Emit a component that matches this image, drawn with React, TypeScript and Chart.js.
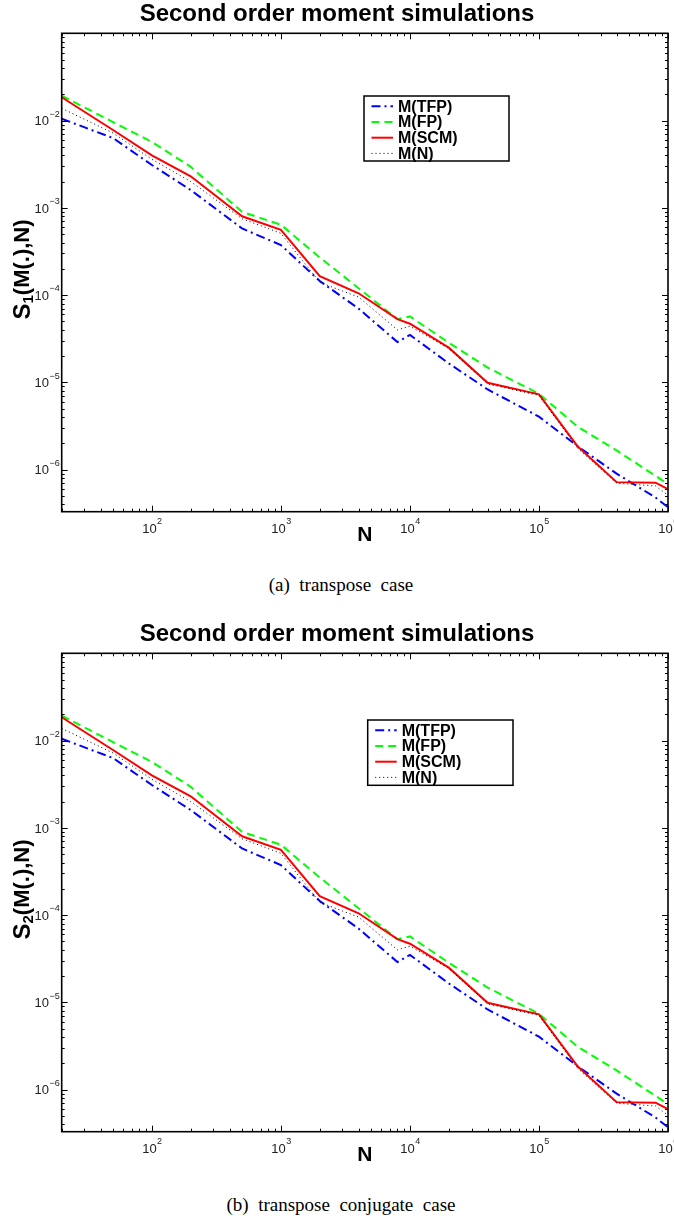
import React, { useEffect, useRef } from 'react';
import { Chart, registerables } from 'chart.js';

Chart.register(...registerables);
Chart.defaults.font.family = '"Liberation Sans", Arial, Helvetica, sans-serif';

// ---------- data ----------
const sampleSizes = [20, 50, 100, 200, 500, 1000, 2000, 4000, 8000, 10000, 20000, 40000, 100000, 200000, 400000, 800000, 1000000];
const momentTFP = [1.05e-2, 6.3e-3, 3.1e-3, 1.6e-3, 5.8e-4, 3.75e-4, 1.45e-4, 7.0e-5, 2.9e-5, 3.5e-5, 1.65e-5, 8.3e-6, 4.05e-6, 1.85e-6, 9.0e-7, 4.8e-7, 3.7e-7];
const momentFP = [1.93e-2, 9.6e-3, 5.7e-3, 2.95e-3, 9.0e-4, 6.4e-4, 2.7e-4, 1.2e-4, 5.3e-5, 5.7e-5, 2.85e-5, 1.48e-5, 7.4e-6, 3.1e-6, 1.66e-6, 8.5e-7, 6.8e-7];
const momentSCM = [1.85e-2, 7.8e-3, 4.0e-3, 2.3e-3, 8.0e-4, 5.6e-4, 1.65e-4, 1.05e-4, 5.3e-5, 4.7e-5, 2.5e-5, 9.9e-6, 7.3e-6, 1.84e-6, 7.2e-7, 7.1e-7, 6.0e-7];
const momentN = [1.38e-2, 7.2e-3, 3.6e-3, 2.0e-3, 7.5e-4, 5.1e-4, 1.4e-4, 9.5e-5, 4.0e-5, 4.4e-5, 2.45e-5, 9.6e-6, 7.1e-6, 1.75e-6, 7.0e-7, 6.5e-7, 5.1e-7];
const seriesLabels = ['M(TFP)', 'M(FP)', 'M(SCM)', 'M(N)'];

const xMin = 20;
const xMax = 1e6;
const yMin = 3.3e-7;
const yMax = 0.1;
const xTickValues = [1e2, 1e3, 1e4, 1e5, 1e6];
const xTickExponents = ['2', '3', '4', '5', '6'];
const yTickValues = [1e-6, 1e-5, 1e-4, 1e-3, 1e-2];
const yTickExponents = ['\u22126', '\u22125', '\u22124', '\u22123', '\u22122'];
const tickBase = '10';

const chartTitle = 'Second order moment simulations';
const xAxisTitle = 'N';
const yAxisBase = 'S';
const yAxisRest = '(M(.),N)';
const yAxisSubscripts = ['1', '2'];
const captions = ['(a)  transpose  case', '(b)  transpose  conjugate  case'];

// ---------- styling ----------
const SANS = '"Liberation Sans", Arial, Helvetica, sans-serif';
const W = 674;
const H = 560;

function logTicks(min: number, max: number) {
  const out: { v: number; major: boolean }[] = [];
  const e0 = Math.floor(Math.log10(min)) - 1;
  const e1 = Math.ceil(Math.log10(max)) + 1;
  for (let e = e0; e <= e1; e++) {
    for (let m = 1; m <= 9; m++) {
      const v = m * Math.pow(10, e);
      if (v >= min * (1 - 1e-9) && v <= max * (1 + 1e-9)) out.push({ v, major: m === 1 });
    }
  }
  return out;
}

const framePlugin = {
  id: 'matFrame',
  afterDatasetsDraw(chart: any) {
    const { ctx, chartArea: a, scales } = chart;
    const xs = scales.x;
    const ys = scales.y;
    ctx.save();
    ctx.strokeStyle = '#000';
    ctx.lineWidth = 1;
    ctx.beginPath();
    for (const t of logTicks(xs.min, xs.max)) {
      const px = Math.round(xs.getPixelForValue(t.v)) + 0.5;
      const len = t.major ? 6 : 3;
      ctx.moveTo(px, a.bottom);
      ctx.lineTo(px, a.bottom - len);
      ctx.moveTo(px, a.top);
      ctx.lineTo(px, a.top + len);
    }
    for (const t of logTicks(ys.min, ys.max)) {
      const py = Math.round(ys.getPixelForValue(t.v)) + 0.5;
      const len = t.major ? 6 : 3;
      ctx.moveTo(a.left, py);
      ctx.lineTo(a.left + len, py);
      ctx.moveTo(a.right, py);
      ctx.lineTo(a.right - len, py);
    }
    ctx.stroke();
    ctx.lineWidth = 1.6;
    ctx.strokeRect(a.left, a.top, a.right - a.left, a.bottom - a.top);
    ctx.restore();
  },
};

// power-of-ten tick labels, placed with the library's scales
const tickLabelPlugin = {
  id: 'powTicks',
  afterDraw(chart: any) {
    const { ctx, chartArea: a, scales } = chart;
    const baseFont = `13px ${SANS}`;
    const expFont = `9px ${SANS}`;
    ctx.save();
    ctx.fillStyle = '#222';
    ctx.textBaseline = 'alphabetic';
    ctx.textAlign = 'left';
    xTickValues.forEach((v, i) => {
      const px = scales.x.getPixelForValue(v);
      ctx.font = baseFont;
      const wb = ctx.measureText(tickBase).width;
      ctx.font = expFont;
      const we = ctx.measureText(xTickExponents[i]).width;
      const x0 = px - (wb + we) / 2;
      const by = a.bottom + 21.6;
      ctx.font = baseFont;
      ctx.fillText(tickBase, x0, by);
      ctx.font = expFont;
      ctx.fillText(xTickExponents[i], x0 + wb + 0.5, by - 9.5);
    });
    yTickValues.forEach((v, i) => {
      const py = scales.y.getPixelForValue(v);
      ctx.font = expFont;
      const we = ctx.measureText(yTickExponents[i]).width;
      ctx.font = baseFont;
      const wb = ctx.measureText(tickBase).width;
      const xr = a.left - 2;
      const by = py + 4.7;
      ctx.font = baseFont;
      ctx.fillText(tickBase, xr - we - wb - 0.5, by);
      ctx.font = expFont;
      ctx.fillText(yTickExponents[i], xr - we, by - 8.5);
    });
    ctx.restore();
  },
};

const yTitlePlugin = {
  id: 'yTitle',
  afterDraw(chart: any, _args: any, opts: any) {
    const { ctx, chartArea: a } = chart;
    const cy = (a.top + a.bottom) / 2 + (opts.dy || 0);
    ctx.save();
    ctx.translate(opts.x, cy);
    ctx.rotate(-Math.PI / 2);
    ctx.fillStyle = '#000';
    ctx.textAlign = 'left';
    ctx.textBaseline = 'alphabetic';
    const big = `bold 22px ${SANS}`;
    const sBig = `bold 24px ${SANS}`;
    const small = `bold 15px ${SANS}`;
    ctx.font = sBig;
    const wS = ctx.measureText(opts.base).width;
    ctx.font = big;
    const wR = ctx.measureText(opts.rest).width;
    ctx.font = small;
    const wSub = ctx.measureText(opts.sub).width;
    const x0 = -(wS + wSub + wR) / 2;
    ctx.font = sBig;
    ctx.fillText(opts.base, x0, 0.5);
    ctx.font = small;
    ctx.fillText(opts.sub, x0 + wS, 4);
    ctx.font = big;
    ctx.fillText(opts.rest, x0 + wS + wSub, 0);
    ctx.restore();
  },
};

const boxLegendPlugin = {
  id: 'boxLegend',
  afterDraw(chart: any, _args: any, opts: any) {
    const { ctx } = chart;
    const { left, top, width, height } = opts;
    ctx.save();
    ctx.fillStyle = '#fff';
    ctx.fillRect(left, top, width, height);
    ctx.lineWidth = 1.5;
    ctx.strokeStyle = '#000';
    ctx.strokeRect(left, top, width, height);
    chart.data.datasets.forEach((ds: any, i: number) => {
      const y = top + 10.3 + 15.7 * i;
      ctx.strokeStyle = ds.borderColor;
      ctx.lineWidth = ds.borderWidth;
      ctx.setLineDash(ds.borderDash || []);
      ctx.beginPath();
      ctx.moveTo(left + 7.5, y);
      ctx.lineTo(left + 29, y);
      ctx.stroke();
      ctx.setLineDash([]);
      ctx.fillStyle = '#000';
      ctx.font = `bold 16px ${SANS}`;
      ctx.textAlign = 'left';
      ctx.textBaseline = 'middle';
      ctx.fillText(ds.label, left + 34, y + 1);
    });
    ctx.restore();
  },
};

function toPoints(values: number[]) {
  return sampleSizes.map((n, i) => ({ x: n, y: values[i] }));
}

type PanelProps = { top: number; sub: string; legend: { left: number; top: number; width: number; height: number } };

function MomentPanel({ top, sub, legend }: PanelProps) {
  const ref = useRef<HTMLCanvasElement>(null);
  useEffect(() => {
    if (!ref.current) return;
    const chart = new Chart(ref.current, {
      type: 'line',
      data: {
        datasets: [
          { label: seriesLabels[0], data: toPoints(momentTFP), borderColor: '#0000ff', borderWidth: 2, borderDash: [9, 4, 2, 4], pointRadius: 0, order: 4 },
          { label: seriesLabels[1], data: toPoints(momentFP), borderColor: '#00ff00', borderWidth: 2, borderDash: [8, 5], pointRadius: 0, order: 3 },
          { label: seriesLabels[2], data: toPoints(momentSCM), borderColor: '#ff0000', borderWidth: 2, pointRadius: 0, order: 2 },
          { label: seriesLabels[3], data: toPoints(momentN), borderColor: '#000000', borderWidth: 1, borderDash: [1, 3], pointRadius: 0, order: 1 },
        ] as any,
      },
      options: {
        responsive: false,
        animation: false,
        devicePixelRatio: 1,
        events: [],
        layout: { padding: { left: 6, right: 6, top: 0, bottom: 0 } },
        plugins: {
          legend: { display: false },
          tooltip: { enabled: false },
          title: {
            display: true,
            text: chartTitle,
            color: '#000',
            font: { family: SANS, size: 24, weight: 'bold', lineHeight: 1.2 },
            padding: { top: 0, bottom: 4.5 },
          },
          yTitle: { x: 29, dy: -3, base: yAxisBase, sub, rest: yAxisRest },
          boxLegend: legend,
        } as any,
        scales: {
          x: {
            type: 'logarithmic',
            position: 'bottom',
            min: xMin,
            max: xMax,
            grid: { display: false, drawTicks: false },
            border: { display: false },
            afterBuildTicks: (s: any) => {
              s.ticks = xTickValues.map((v) => ({ value: v }));
            },
            afterFit: (s: any) => {
              s.height = 48.3;
              s.paddingLeft = 0;
              s.paddingRight = 0;
            },
            ticks: { display: false, autoSkip: false },
            title: {
              display: true,
              text: xAxisTitle,
              color: '#000',
              font: { family: SANS, size: 21, weight: 'bold', lineHeight: 1.2 },
              padding: { top: 0, bottom: 12.4 },
            },
          },
          y: {
            type: 'logarithmic',
            position: 'left',
            min: yMin,
            max: yMax,
            grid: { display: false, drawTicks: false },
            border: { display: false },
            afterBuildTicks: (s: any) => {
              s.ticks = yTickValues.map((v) => ({ value: v }));
            },
            afterFit: (s: any) => {
              s.width = 55.7;
              s.paddingTop = 0;
              s.paddingBottom = 0;
            },
            ticks: { display: false, autoSkip: false },
          },
        } as any,
      },
      plugins: [framePlugin, tickLabelPlugin, yTitlePlugin, boxLegendPlugin] as any,
    });
    return () => chart.destroy();
  }, [top, sub, legend]);
  return (
    <canvas
      ref={ref}
      width={W}
      height={H}
      style={{ position: 'absolute', left: 0, top, width: W, height: H }}
    />
  );
}

const captionStyle: React.CSSProperties = {
  position: 'absolute',
  left: 0,
  width: 682,
  textAlign: 'center',
  fontFamily: '"Liberation Serif", "Times New Roman", serif',
  fontSize: 19,
  lineHeight: '22px',
  color: '#000',
  whiteSpace: 'pre',
};

const legendA = { left: 364, top: 96, width: 145, height: 65 };
const legendB = { left: 367.7, top: 100, width: 145.3, height: 65.3 };

export default function App() {
  return (
    <div style={{ position: 'absolute', left: 0, top: 0, width: W, height: 1222, background: '#fff', overflow: 'hidden' }}>
      <MomentPanel top={0} sub={yAxisSubscripts[0]} legend={legendA} />
      <div style={{ ...captionStyle, top: 574 }}>{captions[0]}</div>
      <MomentPanel top={620} sub={yAxisSubscripts[1]} legend={legendB} />
      <div style={{ ...captionStyle, top: 1194 }}>{captions[1]}</div>
    </div>
  );
}
